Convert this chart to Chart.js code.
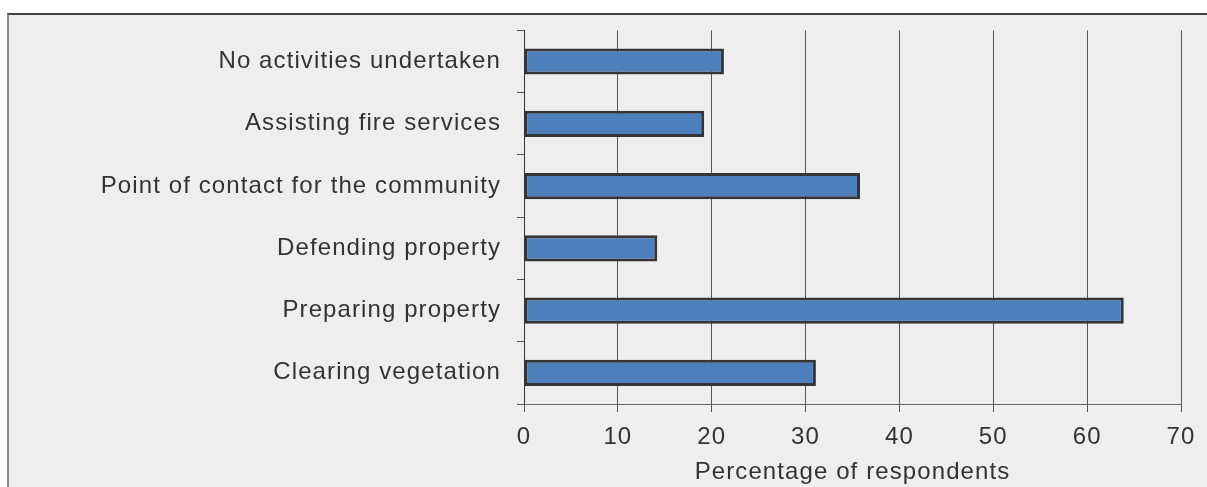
<!DOCTYPE html>
<html>
<head>
<meta charset="utf-8">
<script src="https://cdn.jsdelivr.net/npm/chart.js@4"></script>
<style>
    html, body { margin: 0; padding: 0; background: #ffffff; }
    #marco {
        position: absolute; left: 7px; top: 13px; width: 1200px; height: 474px;
        background: #eeeeee;
        border-top: 2px solid #444444;
        border-left: 2px solid #8a8a8a;
    }
    #lienzo { position: absolute; left: 0; top: 0; }
</style>
</head>
<body>
<div id="marco"></div>
<div id="lienzo"><canvas id="myChart" width="1207" height="487"></canvas></div>
<script>
let actividades = [
    "No activities undertaken",
    "Assisting fire services",
    "Point of contact for the community",
    "Defending property",
    "Preparing property",
    "Clearing vegetation"
];
let porcentajes = [21.3, 19.2, 35.8, 14.2, 63.9, 31.1];
let marcasX = [0, 10, 20, 30, 40, 50, 60, 70];

let fuente = "'Liberation Sans', Arial, sans-serif";
let grafica = document.getElementById("myChart");

// texto algo mas espaciado que el Arial normal
let espaciado = {
    id: "espaciado",
    beforeDraw: function (chart) {
        chart.ctx.letterSpacing = "1.1px";
    }
};

new Chart(grafica, {
    type: "bar",
    data: {
        labels: actividades,
        datasets: [{
            label: "Percentage of respondents",
            data: porcentajes,
            backgroundColor: "#4d7fbd",
            borderColor: "#353535",
            borderWidth: 3,
            borderSkipped: false,
            barPercentage: 0.42,
            categoryPercentage: 1
        }]
    },
    plugins: [espaciado],
    options: {
        indexAxis: "y",
        responsive: false,
        animation: false,
        layout: { padding: { top: 29, right: 26, left: 0, bottom: 0 } },
        plugins: {
            legend: { display: false },
            tooltip: { enabled: false }
        },
        scales: {
            x: {
                min: marcasX[0],
                max: marcasX[marcasX.length - 1],
                afterBuildTicks: function (eje) {
                    eje.ticks = marcasX.map(v => ({ value: v }));
                },
                grid: {
                    color: "#555555",
                    lineWidth: 1,
                    tickLength: 8,
                    drawOnChartArea: true
                },
                border: { display: true, color: "#666666", width: 1 },
                ticks: {
                    color: "#333333",
                    font: { family: fuente, size: 24 },
                    padding: 11,
                    maxRotation: 0
                },
                title: {
                    display: true,
                    text: "Percentage of respondents",
                    color: "#333333",
                    font: { family: fuente, size: 24 },
                    padding: { top: 6, bottom: 0 }
                },
                afterFit: function (eje) { eje.height = 83; }
            },
            y: {
                grid: {
                    offset: true,
                    drawOnChartArea: false,
                    color: "#555555",
                    tickLength: 7
                },
                border: { display: true, color: "#333333", width: 1 },
                ticks: {
                    color: "#333333",
                    font: { family: fuente, size: 24 },
                    padding: 16
                },
                afterFit: function (eje) { eje.width = 524; }
            }
        }
    }
});
</script>
</body>
</html>
